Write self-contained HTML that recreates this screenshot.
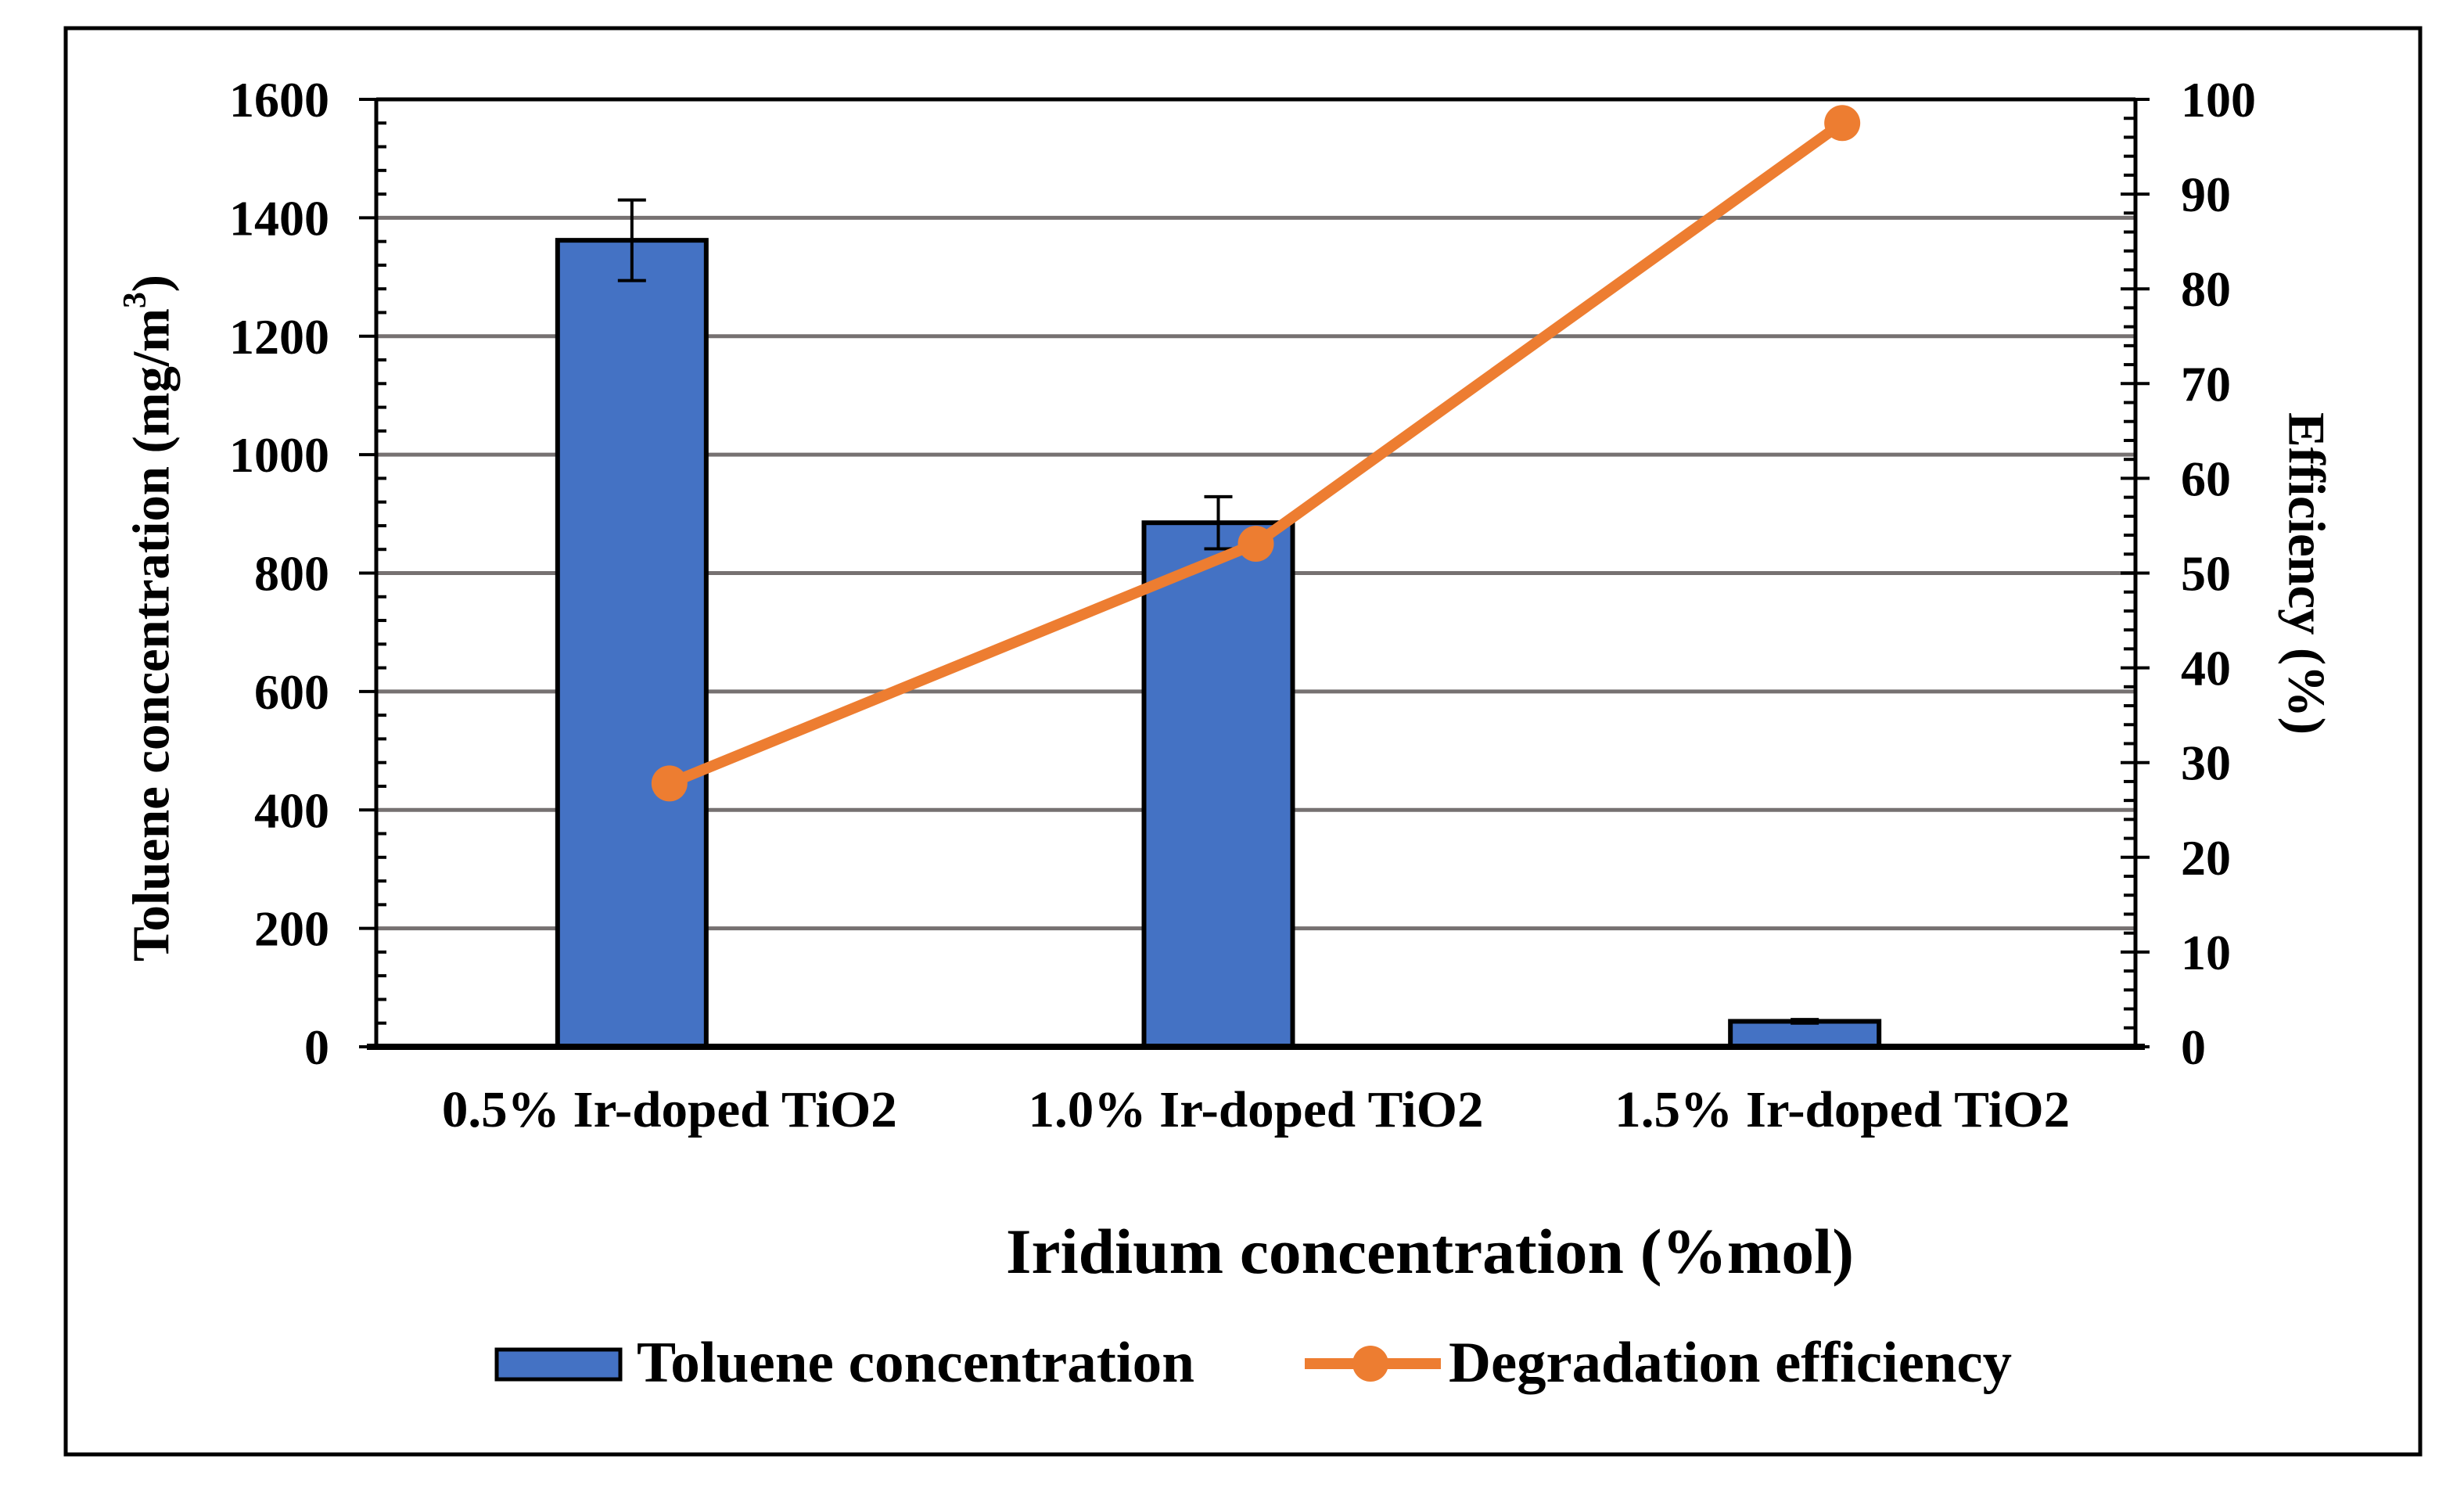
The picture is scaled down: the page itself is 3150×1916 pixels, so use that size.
<!DOCTYPE html>
<html><head><meta charset="utf-8"><style>
html,body{margin:0;padding:0;background:#fff}
svg{display:block}
text{font-family:"Liberation Serif",serif;font-weight:bold;fill:#000}
</style></head><body>
<svg id="chart" width="3150" height="1916" viewBox="0 0 3150 1916">
<rect x="84" y="36" width="3010" height="1823" fill="none" stroke="#000" stroke-width="5"/>
<g id="grid"></g>
<g id="bars"></g>
<g id="line"></g>
<g id="axes"></g>
<text x="200" y="790" font-size="67" text-anchor="middle" transform="rotate(-90 200 790)" dominant-baseline="middle" textLength="878">Toluene concentration (mg/m<tspan font-size="42" dy="-24">3</tspan><tspan dy="24">)</tspan></text>
<text x="2942" y="733" font-size="67" text-anchor="middle" transform="rotate(90 2942 733)" dominant-baseline="middle" textLength="412">Efficiency (%)</text>
<text x="1828" y="1627" font-size="82" text-anchor="middle" textLength="1084" lengthAdjust="spacingAndGlyphs">Iridium concentration (%mol)</text>
<g>
<rect x="635" y="1725" width="158" height="38" fill="#4472C4" stroke="#000" stroke-width="5"/>
<text x="814" y="1766" font-size="74" textLength="713" lengthAdjust="spacingAndGlyphs">Toluene concentration</text>
<line x1="1668" y1="1743" x2="1842" y2="1743" stroke="#ED7D31" stroke-width="14"/>
<circle cx="1752" cy="1743" r="23" fill="#ED7D31"/>
<text x="1852" y="1766" font-size="74" textLength="720" lengthAdjust="spacingAndGlyphs">Degradation efficiency</text>
</g>
</svg>
<script>
const categories = ["0.5% Ir-doped TiO2","1.0% Ir-doped TiO2","1.5% Ir-doped TiO2"];
const toluene = [1362, 885, 43];
const tolueneErr = [68, 44, 3];
const efficiency = [27.8, 53.1, 97.5];
const leftTicks = [0,200,400,600,800,1000,1200,1400,1600];
const rightTicks = [0,10,20,30,40,50,60,70,80,90,100];

const NS="http://www.w3.org/2000/svg";
const L=481, R=2730, T=127, B=1338;
const yL=v=>B-(v/1600)*(B-T);
const yR=v=>B-(v/100)*(B-T);
const band=(R-L)/categories.length;
const xC=i=>L+band*(i+0.5);
function mk(tag,attrs,parent){const e=document.createElementNS(NS,tag);for(const k in attrs)e.setAttribute(k,attrs[k]);parent.appendChild(e);return e;}
const grid=document.getElementById('grid'),bars=document.getElementById('bars'),line=document.getElementById('line'),axes=document.getElementById('axes');

leftTicks.forEach(v=>{
  if(v>0&&v<1600){const g=mk('line',{x1:L,x2:R,y1:yL(v),y2:yL(v),stroke:'#767171','stroke-width':5},grid);
  
  }
});
const bw=190;
categories.forEach((c,i)=>{
  const cx=xC(i)-48;
  const r=mk('rect',{x:cx-bw/2,y:yL(toluene[i]),width:bw,height:B-yL(toluene[i]),fill:'#4472C4',stroke:'#000','stroke-width':6},bars);
  
  
  const e=mk('path',{d:`M${cx} ${yL(toluene[i]+tolueneErr[i])}V${yL(toluene[i]-tolueneErr[i])}M${cx-18} ${yL(toluene[i]+tolueneErr[i])}h36M${cx-18} ${yL(toluene[i]-tolueneErr[i])}h36`,stroke:'#000','stroke-width':4,fill:'none'},bars);
  
  
  const t=mk('text',{x:xC(i),y:1440,'font-size':66,'text-anchor':'middle',textLength:582,lengthAdjust:'spacingAndGlyphs'},axes);
  t.textContent=c;
  
  
});
const pl=mk('polyline',{points:efficiency.map((v,i)=>xC(i)+','+yR(v)).join(' '),fill:'none',stroke:'#ED7D31','stroke-width':14,'stroke-linejoin':'round'},line);


efficiency.forEach((v,i)=>{
  const c=mk('circle',{cx:xC(i),cy:yR(v),r:23,fill:'#ED7D31'},line);
  
  
});
const ax=mk('path',{d:`M${L} ${T}V${B}M${R} ${T}V${B}M${L} ${T}H${R}`,stroke:'#000','stroke-width':5,fill:'none'},axes);


const xa=mk('line',{x1:L-12,x2:R+12,y1:B,y2:B,stroke:'#000','stroke-width':8},axes);


for(let v=0;v<=1600;v+=40){const y=yL(v);const maj=v%200===0;
  const tk=mk('line',{x1:maj?L-22:L,x2:maj?L:L+13,y1:y,y2:y,stroke:'#000','stroke-width':4},axes);
  
  }
leftTicks.forEach(v=>{const t=mk('text',{x:421,y:yL(v)+22,'font-size':64,'text-anchor':'end'},axes);t.textContent=v;
  
  });
for(let v=0;v<=100;v+=2){const y=yR(v);const maj=v%10===0;
  const tk=mk('line',{x1:maj?R-19:R-15,x2:maj?R+18:R,y1:y,y2:y,stroke:'#000','stroke-width':4},axes);
  
  }
rightTicks.forEach(v=>{const t=mk('text',{x:2788,y:yR(v)+22,'font-size':64,'text-anchor':'start'},axes);t.textContent=v;
  
  });
</script>
</body></html>
